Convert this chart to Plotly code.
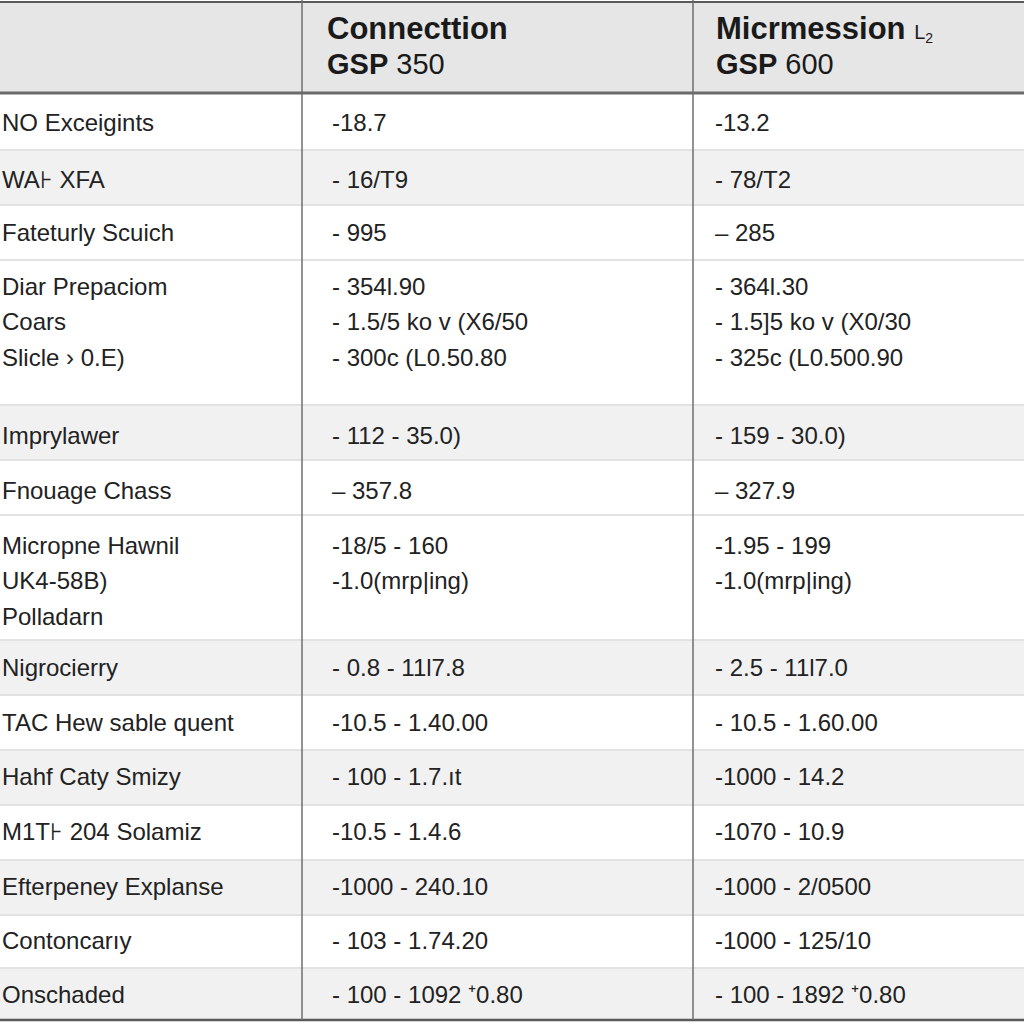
import plotly.graph_objects as go

# ---------------- data ----------------
header_col2 = ["Connecttion", "GSP", "350"]
header_col3 = ["Micrmession", "GSP", "600"]

categories = [
    "NO Exceigints",
    "WA⊦ XFA",
    "Fateturly Scuich",
    "Diar Prepaciom\nCoars\nSlicle › 0.E)",
    "Imprylawer",
    "Fnouage Chass",
    "Micropne Hawnil\nUK4-58B)\nPolladarn",
    "Nigrocierry",
    "TAC Hew sable quent",
    "Hahf Caty Smizy",
    "M1T⊦ 204 Solamiz",
    "Efterpeney Explanse",
    "Contoncarıy",
    "Onschaded",
]

gsp350 = [
    "-18.7",
    "- 16/T9",
    "- 995",
    "- 354l.90\n- 1.5/5 ko v (X6/50\n- 300c (L0.50.80",
    "- 112 - 35.0)",
    "– 357.8",
    "-18/5 - 160\n-1.0(mrp|ing)",
    "- 0.8 - 11l7.8",
    "-10.5 - 1.40.00",
    "- 100 - 1.7.ıt",
    "-10.5 - 1.4.6",
    "-1000 - 240.10",
    "- 103 - 1.74.20",
    "- 100 - 1092 ⁺0.80",
]

gsp600 = [
    "-13.2",
    "- 78/T2",
    "– 285",
    "- 364l.30\n- 1.5]5 ko v (X0/30\n- 325c (L0.500.90",
    "- 159 - 30.0)",
    "– 327.9",
    "-1.95 - 199\n-1.0(mrp|ing)",
    "- 2.5 - 11l7.0",
    "- 10.5 - 1.60.00",
    "-1000 - 14.2",
    "-1070 - 10.9",
    "-1000 - 2/0500",
    "-1000 - 125/10",
    "- 100 - 1892 ⁺0.80",
]

# ---------------- layout / style ----------------
W = 1024
header_top, header_bottom = 2, 93
row_heights = [57, 55, 55, 145, 55, 55, 125, 55, 55, 55, 55, 55, 53, 52]
row_first_line = [29, 29, 27, 26, 30, 30, 30, 27, 27, 26, 26, 26, 25, 26]
row_fill = ["#ffffff", "#f1f1f1", "#ffffff", "#ffffff", "#f1f1f1", "#ffffff",
            "#ffffff", "#f1f1f1", "#ffffff", "#f1f1f1", "#ffffff", "#f1f1f1",
            "#ffffff", "#f1f1f1"]
col_edges = [0, 302, 693, W]
text_x = [0, 330, 713]
line_gap = 35.5

BODY_FONT = "Liberation Sans, Arial, sans-serif"
HEAD_FONT = "Liberation Sans, Arial, sans-serif"
body_size = 24
text_color = "#222222"

fig = go.Figure()
fig.add_trace(go.Scatter(x=[0, W], y=[0, W], mode="markers",
                         marker=dict(opacity=0), hoverinfo="skip", showlegend=False))

shapes = []
annotations = []

# header background
shapes.append(dict(type="rect", xref="x", yref="y", x0=0, x1=W, y0=header_top, y1=header_bottom,
                   fillcolor="#e6e6e6", line=dict(width=0), layer="below"))

# rows
y = header_bottom
row_tops = []
for i, h in enumerate(row_heights):
    row_tops.append(y)
    shapes.append(dict(type="rect", xref="x", yref="y", x0=0, x1=W, y0=y, y1=y + h,
                       fillcolor=row_fill[i], line=dict(width=0), layer="below"))
    if i > 0:
        shapes.append(dict(type="line", xref="x", yref="y", x0=0, x1=W, y0=y, y1=y,
                           line=dict(color="#e2e2e2", width=2), layer="below"))
    y += h
table_bottom = y

# borders
shapes.append(dict(type="line", xref="x", yref="y", x0=0, x1=W, y0=header_top, y1=header_top,
                   line=dict(color="#5a5a5a", width=2)))
shapes.append(dict(type="line", xref="x", yref="y", x0=0, x1=W, y0=header_bottom, y1=header_bottom,
                   line=dict(color="#6a6a6a", width=3)))
shapes.append(dict(type="line", xref="x", yref="y", x0=0, x1=W, y0=table_bottom, y1=table_bottom,
                   line=dict(color="#5a5a5a", width=2.5)))
for cx in col_edges[1:-1]:
    shapes.append(dict(type="line", xref="x", yref="y", x0=cx, x1=cx, y0=0, y1=table_bottom,
                       line=dict(color="#6e6e6e", width=1.5)))

# header text
def header_ann(words, x, sub=None):
    l1 = "<b>" + words[0] + "</b>"
    if sub:
        l1 += " <span style='font-size:20px'>" + sub + "</span>"
    annotations.append(dict(x=x, y=28, xref="x", yref="y", text=l1, showarrow=False,
                            xanchor="left", yanchor="middle",
                            font=dict(family=HEAD_FONT, size=31, color="#1a1a1a")))
    l2 = "<b>" + words[1] + "</b> " + words[2]
    annotations.append(dict(x=x, y=64, xref="x", yref="y", text=l2, showarrow=False,
                            xanchor="left", yanchor="middle",
                            font=dict(family=HEAD_FONT, size=29, color="#1a1a1a")))

header_ann(header_col2, 325)
header_ann(header_col3, 714, sub="L<sub>2</sub>")

# body text
for i in range(len(categories)):
    for ci, col in enumerate([categories, gsp350, gsp600]):
        lines = col[i].split("\n")
        for k, ln in enumerate(lines):
            annotations.append(dict(
                x=text_x[ci], y=row_tops[i] + row_first_line[i] + k * line_gap,
                xref="x", yref="y", text=ln, showarrow=False,
                xanchor="left", yanchor="middle",
                font=dict(family=BODY_FONT, size=body_size, color=text_color)))

fig.update_layout(
    width=W, height=W,
    margin=dict(l=0, r=0, t=0, b=0),
    paper_bgcolor="#ffffff", plot_bgcolor="#ffffff",
    xaxis=dict(range=[0, W], visible=False, fixedrange=True),
    yaxis=dict(range=[W, 0], visible=False, fixedrange=True),
    shapes=shapes, annotations=annotations,
    showlegend=False,
)

fig.write_html("out.html", config={"displayModeBar": False},
               post_script="document.body.style.margin='0';document.body.style.padding='0';")
